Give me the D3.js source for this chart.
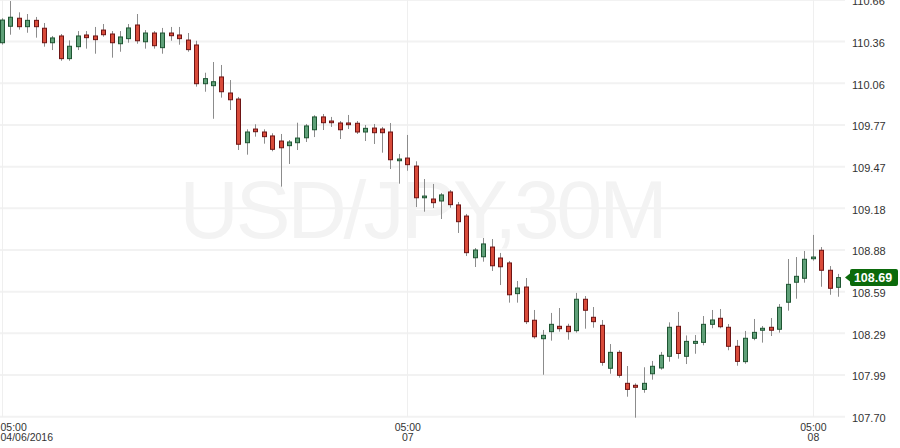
<!DOCTYPE html>
<html><head><meta charset="utf-8">
<script src="https://cdn.jsdelivr.net/npm/d3@7"></script>
<style>html,body{margin:0;padding:0;background:#fff;overflow:hidden}</style>
</head><body>
<svg id="chart" width="900" height="448"></svg>
<script>
// ---- data (USD/JPY, 30-minute candles) ----
const startTime = "2016-04-06T05:00:00";
const barMinutes = 30;
const open = [
110.356,110.473,110.530,110.470,110.515,110.459,110.356,110.404,110.243,110.328,
110.411,110.404,110.446,110.418,110.349,110.385,110.482,110.363,110.425,110.321,
110.425,110.411,110.375,110.340,110.065,110.051,110.113,109.999,109.956,109.646,
109.743,109.722,109.694,109.658,109.625,109.646,109.681,109.738,109.829,109.800,
109.786,109.786,109.784,109.722,109.750,109.743,109.722,109.518,109.537,109.480,
109.255,109.246,109.232,109.296,109.204,109.125,108.829,108.836,108.905,108.827,
108.792,108.574,108.621,108.385,108.254,108.304,108.342,108.342,108.311,108.534,
108.406,108.349,108.044,108.157,107.937,107.923,107.894,108.005,108.046,108.129,
108.342,108.129,108.221,108.228,108.356,108.399,108.335,108.200,108.091,108.257,
108.314,108.335,108.321,108.513,108.655,108.683,108.822,108.882,108.740,108.619];
const high = [
110.530,110.652,110.572,110.560,110.539,110.496,110.404,110.418,110.373,110.439,
110.439,110.468,110.489,110.439,110.439,110.489,110.560,110.446,110.439,110.461,
110.468,110.468,110.425,110.370,110.143,110.219,110.198,110.091,109.971,109.741,
109.777,109.741,109.713,109.708,109.665,109.788,109.779,109.841,109.850,109.829,
109.800,109.843,109.800,109.772,109.779,109.758,109.786,109.566,109.701,109.514,
109.388,109.353,109.289,109.310,109.225,109.140,108.898,108.969,108.962,108.863,
108.806,108.664,108.685,108.458,108.316,108.437,108.472,108.360,108.579,108.557,
108.479,108.387,108.216,108.172,108.060,107.937,108.051,108.096,108.160,108.370,
108.444,108.277,108.280,108.415,108.458,108.465,108.358,108.245,108.309,108.394,
108.344,108.401,108.500,108.820,108.834,108.877,108.991,108.905,108.770,108.714];
const low = [
110.343,110.413,110.449,110.427,110.392,110.328,110.304,110.228,110.228,110.304,
110.314,110.278,110.399,110.250,110.292,110.356,110.349,110.314,110.314,110.278,
110.370,110.342,110.292,110.044,110.008,109.816,109.966,109.878,109.594,109.561,
109.689,109.639,109.585,109.334,109.495,109.594,109.651,109.686,109.736,109.758,
109.672,109.743,109.708,109.658,109.637,109.575,109.459,109.355,109.447,109.189,
109.156,109.182,109.104,109.184,109.005,108.841,108.763,108.801,108.735,108.635,
108.510,108.510,108.358,108.254,107.998,108.240,108.304,108.247,108.297,108.325,
108.332,108.062,108.005,107.977,107.842,107.693,107.870,107.963,108.034,108.091,
108.112,108.074,108.147,108.207,108.328,108.328,108.172,108.062,108.076,108.243,
108.226,108.273,108.297,108.453,108.538,108.652,108.808,108.623,108.566,108.552];
const close = [
110.517,110.537,110.470,110.515,110.470,110.356,110.390,110.243,110.331,110.404,
110.392,110.378,110.413,110.356,110.397,110.461,110.370,110.425,110.335,110.425,
110.406,110.385,110.307,110.065,110.101,110.079,110.008,109.951,109.635,109.722,
109.724,109.689,109.599,109.610,109.651,109.679,109.765,109.829,109.788,109.788,
109.738,109.774,109.722,109.748,109.717,109.717,109.525,109.530,109.490,109.255,
109.267,109.220,109.275,109.206,109.085,108.865,108.884,108.927,108.772,108.765,
108.566,108.614,108.375,108.268,108.278,108.356,108.325,108.304,108.534,108.456,
108.375,108.086,108.157,107.994,107.894,107.909,107.937,108.058,108.136,108.335,
108.149,108.235,108.235,108.356,108.387,108.339,108.200,108.093,108.257,108.299,
108.328,108.314,108.477,108.640,108.697,108.818,108.834,108.740,108.612,108.688];
const yTickValues = [107.700,107.996,108.292,108.588,108.884,109.180,109.476,109.772,110.068,110.364,110.660];
const yTickLabels = ["107.70","107.99","108.29","108.59","108.88","109.18","109.47","109.77","110.06","110.36","110.66"];
const xTickTimes = ["2016-04-06T05:00:00","2016-04-07T05:00:00","2016-04-08T05:00:00"];
const xTickLabels = [["05:00","04/06/2016"],["05:00","07"],["05:00","08"]];
const watermarkText = "USD/JPY,30M";

// ---- setup ----
const svg = d3.select("#chart");
const font = "'Liberation Sans', Arial, sans-serif";
const t0 = new Date(startTime);
const times = open.map((_, i) => d3.timeMinute.offset(t0, barMinutes * i));
const bars = open.map((o, i) => ({t: times[i], o, h: high[i], l: low[i], c: close[i]}));
const xTicks = xTickTimes.map(s => new Date(s));

const plotRight = 845, plotBottom = 417;
const x = d3.scaleTime().domain([times[0], times[times.length - 1]]).range([1.7, 838.25]);
const y = d3.scaleLinear().domain([107.70, 110.66]).range([416.7, -0.07]);

// grid
const grid = svg.append("g");
grid.selectAll("line.h").data(yTickValues).join("line")
  .attr("x1", 0).attr("x2", plotRight)
  .attr("y1", d => y(d)).attr("y2", d => y(d))
  .attr("stroke", "#f2f2f2").attr("stroke-width", 2);
grid.selectAll("line.v").data(xTicks).join("line")
  .attr("x1", d => Math.round(x(d)) + 0.5).attr("x2", d => Math.round(x(d)) + 0.5)
  .attr("y1", 0).attr("y2", plotBottom)
  .attr("stroke", "#efefef").attr("stroke-width", 1);

// watermark
svg.append("text").text(watermarkText)
  .attr("x", 422).attr("y", 238.3)
  .attr("text-anchor", "middle")
  .attr("font-family", font).attr("font-size", 82)
  .attr("letter-spacing", "-3px")
  .attr("fill", "#f3f3f3");

// candles
const cg = svg.append("g");
const cx = d => Math.round(x(d.t));
cg.selectAll("line.wick").data(bars).join("line")
  .attr("x1", d => cx(d) + 0.5).attr("x2", d => cx(d) + 0.5)
  .attr("y1", d => y(d.h)).attr("y2", d => y(d.l))
  .attr("stroke", "#8c8c8c").attr("stroke-width", 1);
cg.selectAll("rect.body").data(bars).join("rect")
  .attr("x", d => cx(d) - 1.5).attr("width", 4)
  .attr("y", d => y(Math.max(d.o, d.c)))
  .attr("height", d => Math.max(1, Math.abs(y(d.o) - y(d.c))))
  .attr("fill", d => d.c >= d.o ? "#5fa078" : "#d94b3a")
  .attr("stroke", d => d.c >= d.o ? "#1e5532" : "#6e1414")
  .attr("stroke-width", 1);

// y axis (right)
const yAxis = d3.axisRight(y).tickValues(yTickValues)
  .tickFormat((d, i) => yTickLabels[i]).tickSize(0).tickPadding(0);
const yg = svg.append("g").attr("transform", "translate(852,0)").call(yAxis);
yg.select(".domain").remove();
yg.selectAll("text").attr("dy", "0.45em").attr("fill", "#333")
  .attr("font-family", font).attr("font-size", 11);

// x axis (bottom)
const xAxis = d3.axisBottom(x).tickValues(xTicks).tickFormat(() => "").tickSize(0);
const xg = svg.append("g").attr("transform", "translate(0,423)").call(xAxis);
xg.select(".domain").remove();
xg.selectAll(".tick").each(function(d, i) {
  const g = d3.select(this);
  g.select("text").remove();
  const px = x(d);
  const first = i === 0 && px < 20;
  const t = g.append("text")
    .attr("font-family", font).attr("font-size", 10.5).attr("fill", "#333")
    .attr("text-anchor", first ? "start" : "middle")
    .attr("transform", first ? `translate(${-px},0)` : null);
  xTickLabels[i].forEach((s, k) => {
    t.append("tspan").attr("x", 0).attr("y", 8 + k * 9.7).text(s);
  });
});

// last price tag
const last = bars[bars.length - 1];
const ly = y(last.c);
const tag = svg.append("g");
tag.append("path")
  .attr("d", `M845,${ly} L850,${ly - 4} L850,${ly - 6.5} Q850,${ly - 8.5} 852,${ly - 8.5} L896,${ly - 8.5} Q898,${ly - 8.5} 898,${ly - 6.5} L898,${ly + 6.5} Q898,${ly + 8.5} 896,${ly + 8.5} L852,${ly + 8.5} Q850,${ly + 8.5} 850,${ly + 6.5} L850,${ly + 4} Z`)
  .attr("fill", "#0b6a0b");
tag.append("text").text(last.c.toFixed(2))
  .attr("x", 873).attr("y", ly).attr("dy", "0.36em")
  .attr("text-anchor", "middle")
  .attr("font-family", font).attr("font-size", 12.5).attr("font-weight", "bold")
  .attr("fill", "#fff");
</script>
</body></html>
